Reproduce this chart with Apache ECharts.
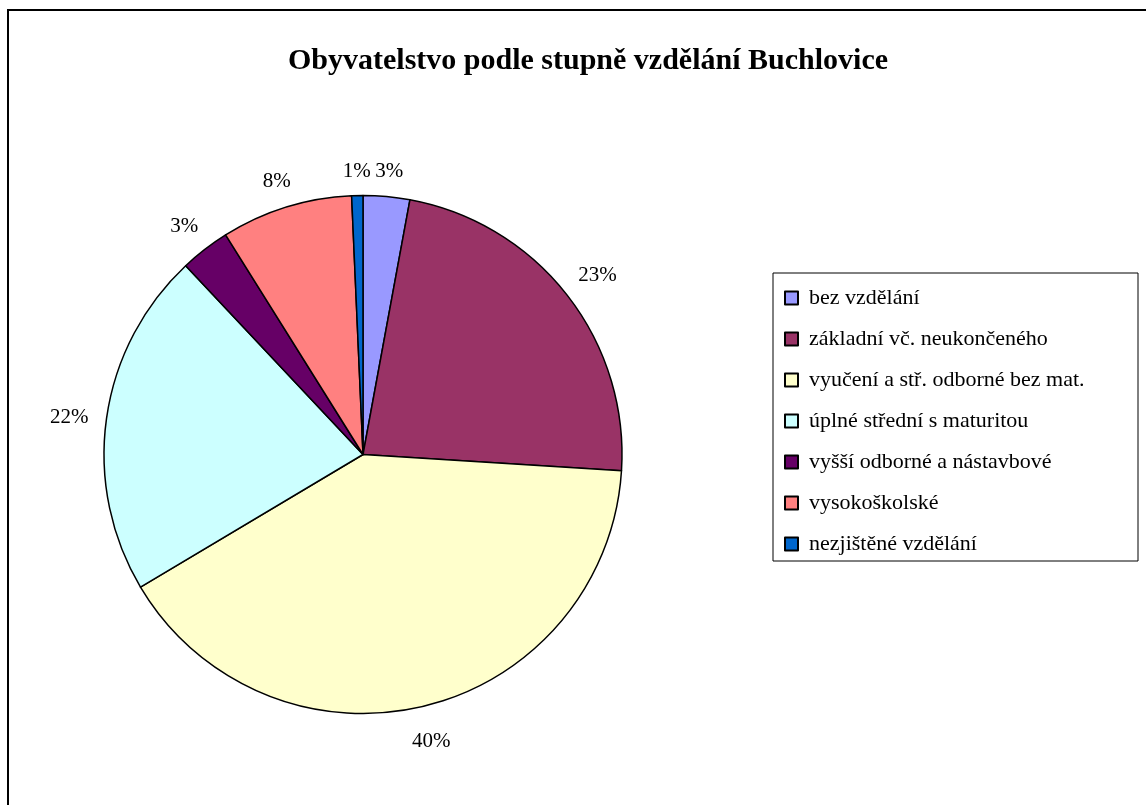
<!DOCTYPE html>
<html>
<head>
<meta charset="utf-8">
<script src="https://cdn.jsdelivr.net/npm/echarts@6/dist/echarts.min.js"></script>
<style>
  html, body { margin: 0; padding: 0; background: #fff; }
  #main { width: 1146px; height: 805px; }
</style>
</head>
<body>
<div id="main"></div>
<script>
// data (shares in %)
var categories = [
  'bez vzdělání',
  'základní vč. neukončeného',
  'vyučení a stř. odborné bez mat.',
  'úplné střední s maturitou',
  'vyšší odborné a nástavbové',
  'vysokoškolské',
  'nezjištěné vzdělání'
];
var values = [2.9, 23.1, 40.45, 21.55, 3.1, 8.2, 0.7];
var colors = ['#9999FF', '#993366', '#FFFFCC', '#CCFFFF', '#660066', '#FF8080', '#0066CC'];

var CX = 363, CY = 454.5, R = 259, GAP = 17;
var FONT = '"Liberation Serif", "Times New Roman", serif';

var total = values.reduce(function (a, b) { return a + b; }, 0);
var cum = [];
values.reduce(function (acc, v, i) { cum[i] = acc; return acc + v; }, 0);

var chart = echarts.init(document.getElementById('main'));

var option = {
  backgroundColor: '#ffffff',
  animation: false,
  color: colors,
  title: {
    text: 'Obyvatelstvo podle stupně vzdělání Buchlovice',
    left: 583,
    top: 41,
    textAlign: 'center',
    textStyle: {
      fontFamily: FONT,
      fontWeight: 'bold',
      fontSize: 30,
      color: '#000'
    }
  },
  graphic: [{
    type: 'rect',
    shape: { x: 8, y: 10, width: 1160, height: 820 },
    style: { fill: null, stroke: '#000', lineWidth: 2 },
    silent: true
  }],
  legend: {
    orient: 'vertical',
    left: 773,
    top: 273,
    icon: 'rect',
    itemWidth: 13,
    itemHeight: 13,
    itemGap: 19,
    padding: [14, 6, 6, 11],
    borderColor: '#000',
    borderWidth: 1,
    backgroundColor: '#fff',
    textStyle: {
      fontFamily: FONT,
      fontSize: 22,
      lineHeight: 22,
      width: 323,
      color: '#000',
      padding: [0, 0, 0, 6]
    },
    data: categories
  },
  series: [{
    type: 'pie',
    center: [CX, CY],
    radius: R,
    startAngle: 90,
    clockwise: true,
    avoidLabelOverlap: false,
    itemStyle: { borderColor: '#000', borderWidth: 1.5 },
    label: {
      show: true,
      position: 'outside',
      fontFamily: FONT,
      fontSize: 21,
      color: '#000',
      formatter: function (p) { return Math.round(p.percent) + '%'; }
    },
    labelLine: { show: false },
    labelLayout: function (p) {
      var i = p.dataIndex;
      var mid = (cum[i] + values[i] / 2) / total * 2 * Math.PI;
      var sx = Math.sin(mid), sy = -Math.cos(mid);
      var w = p.labelRect.width, h = p.labelRect.height;
      var d = R + GAP + w / 2 * Math.abs(sx) + h / 2 * Math.abs(sy);
      return { x: CX + d * sx, y: CY + d * sy + 4, align: 'center', verticalAlign: 'middle' };
    },
    emphasis: { disabled: true },
    data: categories.map(function (c, i) { return { name: c, value: values[i] }; })
  }]
};

chart.setOption(option);
</script>
</body>
</html>
